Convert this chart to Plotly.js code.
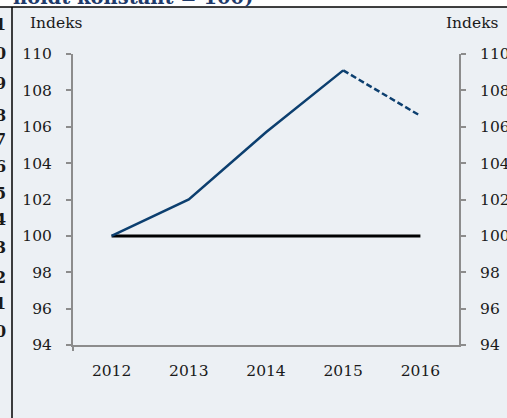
<!DOCTYPE html>
<html>
<head>
<meta charset="utf-8">
<script src="https://cdn.plot.ly/plotly-3.0.1.min.js"></script>
<style>html,body{margin:0;padding:0;background:#ecf0f4;}#chart{width:507px;height:418px;}</style>
</head>
<body>
<div id="chart"></div>
<script>
// Data
const years = ["2012", "2013", "2014", "2015", "2016"];
const indexActualYears = ["2012", "2013", "2014", "2015"];
const indexActual = [100, 102.0, 105.7, 109.1];
const indexForecastYears = ["2015", "2016"];
const indexForecast = [109.1, 106.6];
const baselineValues = [100, 100, 100, 100, 100];
const yTicks = [94, 96, 98, 100, 102, 104, 106, 108, 110];
const axisLabel = "Indeks";
const cutTitle = "holdt konstant = 100)";
// Cut-off characters of the neighbouring chart at the left edge
const edgeChars = ["1", "0", "9", "8", "7", "6", "5", "4", "3", "2", "1", "0"];
const edgeCharY = [25, 53, 83, 115, 139, 166, 193, 219, 247, 277, 303, 331];

// Pixel helpers for decorations
const W = 507, H = 418, L = 73, R = 48, T = 54, B = 73;
const pw = W - L - R, ph = H - T - B;
const px = q => (q - L) / pw;
const py = p => (H - B - p) / ph;

const blue = "#0c3f6f";
const axisGrey = "#8c8c8c";
const serif = "DejaVu Serif, Liberation Serif, serif";

const traces = [
  {x: years, y: baselineValues, type: "scatter", mode: "lines",
   line: {color: "#000000", width: 3}, hoverinfo: "skip"},
  {x: indexActualYears, y: indexActual, type: "scatter", mode: "lines",
   line: {color: blue, width: 2.5}, hoverinfo: "skip"},
  {x: indexForecastYears, y: indexForecast, type: "scatter", mode: "lines",
   line: {color: blue, width: 2.5, dash: "6px,3px"}, hoverinfo: "skip"},
  {x: years, y: baselineValues, type: "scatter", mode: "lines", yaxis: "y2",
   line: {color: "rgba(0,0,0,0)", width: 0}, hoverinfo: "skip"}
];

const annotations = [
  {text: axisLabel, xref: "paper", yref: "paper", x: px(56), y: py(23),
   xanchor: "center", yanchor: "middle", showarrow: false,
   font: {family: serif, size: 15.5, color: "#1a1a1a"}},
  {text: axisLabel, xref: "paper", yref: "paper", x: px(473), y: py(23),
   xanchor: "center", yanchor: "middle", showarrow: false,
   font: {family: serif, size: 15.5, color: "#1a1a1a"}},
  {text: "<b>" + cutTitle + "</b>", xref: "paper", yref: "paper", x: px(11), y: py(11),
   xanchor: "left", yanchor: "bottom", showarrow: false,
   font: {family: serif, size: 19.5, color: "#1f3b6b"}}
];
edgeChars.forEach((c, i) => {
  annotations.push({text: "<b>" + c + "</b>", xref: "paper", yref: "paper",
    x: px(8), y: py(edgeCharY[i]), xanchor: "right", yanchor: "middle",
    showarrow: false, font: {family: serif, size: 16, color: "#1a1a1a"}});
});

const shapes = [
  {type: "rect", xref: "paper", yref: "paper", x0: px(-5), x1: px(W + 5), y0: py(7), y1: py(-5),
   fillcolor: "#ffffff", line: {width: 0}, layer: "below"},
  {type: "line", xref: "paper", yref: "paper", x0: px(0), x1: px(W + 5), y0: py(7), y1: py(7),
   line: {color: "#000000", width: 1.5}},
  {type: "line", xref: "paper", yref: "paper", x0: px(12), x1: px(12), y0: py(7), y1: py(H + 5),
   line: {color: "#000000", width: 1.5}},
  {type: "line", xref: "paper", yref: "paper", x0: px(73), x1: px(73), y0: 0, y1: py(351),
   line: {color: axisGrey, width: 2}}
];

const layout = {
  width: W, height: H,
  margin: {l: L, r: R, t: T, b: B, pad: 0},
  paper_bgcolor: "#ecf0f4", plot_bgcolor: "#ecf0f4",
  showlegend: false,
  xaxis: {type: "category", range: [-0.5, 4.5], showgrid: false, zeroline: false,
    showline: true, linecolor: axisGrey, linewidth: 2, ticks: "",
    tickfont: {family: serif, size: 15.5, color: "#1a1a1a"}, ticklabelstandoff: 10},
  yaxis: {range: [94, 110], tickvals: yTicks, showgrid: false, zeroline: false,
    showline: true, linecolor: axisGrey, linewidth: 2, ticks: "outside", ticklen: 5,
    tickwidth: 2, tickcolor: axisGrey, ticklabelstandoff: 11,
    tickfont: {family: serif, size: 15.5, color: "#1a1a1a"}},
  yaxis2: {range: [94, 110], tickvals: yTicks, overlaying: "y", side: "right",
    showgrid: false, zeroline: false, showline: true, linecolor: axisGrey, linewidth: 2,
    ticks: "outside", ticklen: 5, tickwidth: 2, tickcolor: axisGrey, ticklabelstandoff: 11,
    tickfont: {family: serif, size: 15.5, color: "#1a1a1a"}},
  annotations: annotations,
  shapes: shapes
};

Plotly.newPlot("chart", traces, layout, {staticPlot: true, displayModeBar: false});
</script>
</body>
</html>
